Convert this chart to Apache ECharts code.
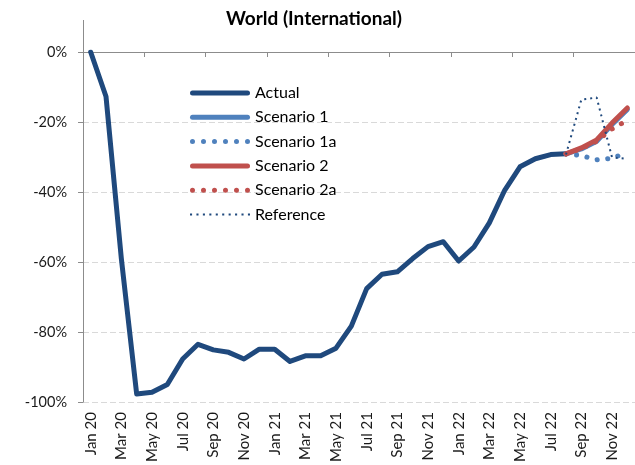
<!DOCTYPE html>
<html>
<head>
<meta charset="utf-8">
<script src="https://cdn.jsdelivr.net/npm/echarts@6/dist/echarts.min.js"></script>
<style>html,body{margin:0;padding:0;background:#fff}#c{width:635px;height:465px}</style>
</head>
<body>
<div id="c"></div>
<script>
var months = ['Jan 20','Feb 20','Mar 20','Apr 20','May 20','Jun 20','Jul 20','Aug 20','Sep 20','Oct 20','Nov 20','Dec 20',
  'Jan 21','Feb 21','Mar 21','Apr 21','May 21','Jun 21','Jul 21','Aug 21','Sep 21','Oct 21','Nov 21','Dec 21',
  'Jan 22','Feb 22','Mar 22','Apr 22','May 22','Jun 22','Jul 22','Aug 22','Sep 22','Oct 22','Nov 22','Dec 22'];
var actual = [0, -12.7, -59.0, -97.7, -97.2, -95.0, -87.7, -83.5, -85.1, -85.8, -87.7, -84.9,
  -84.9, -88.4, -86.8, -86.8, -84.6, -78.3, -67.6, -63.5, -62.8, -59.0, -55.6, -54.2,
  -59.7, -55.7, -48.8, -39.5, -32.8, -30.5, -29.3, -29.1];
var scenarioMonths = ['Aug 22','Sep 22','Oct 22','Nov 22','Dec 22'];
var scenario1 = [-29.1, -27.7, -25.5, -20.7, -16.4];
var scenario1a = [-29.1, -29.6, -30.8, -30.4, -28.6];
var scenario2 = [-29.1, -27.4, -25.1, -20.3, -16.0];
var scenario2a = [-29.1, -27.6, -25.5, -22.0, -19.5];
var reference = [-29.3, -13.6, -13.0, -30.1, -30.5];

function pairs(cats, vals) { return vals.map(function (v, i) { return [cats[i], v]; }); }

// legend icon shapes
var ICON_SOLID = 'path://M2.5,0 L57.5,0 A2.5,2.5 0 0 1 57.5,5 L2.5,5 A2.5,2.5 0 0 1 2.5,0 Z';
var dots = '';
for (var k = 0; k < 6; k++) {
  var cx = 2.5 + k * 11;
  dots += 'M' + (cx - 2.5) + ',2.5 A2.5,2.5 0 1 0 ' + (cx + 2.5) + ',2.5 A2.5,2.5 0 1 0 ' + (cx - 2.5) + ',2.5 Z ';
}
var ICON_DOTS = 'path://' + dots;
var sq = '';
for (var j = 0; j < 10; j++) {
  var sx = j * 6.2;
  sq += 'M' + sx + ',0 L' + (sx + 2) + ',0 L' + (sx + 2) + ',2 L' + sx + ',2 Z ';
}
var ICON_SMALLDOTS = 'path://' + sq;

var FONT = 'Lato';
var chart = echarts.init(document.getElementById('c'));
chart.setOption({
  animation: false,
  title: {
    text: 'World (International)', left: 309, top: 4, textAlign: 'center',
    textStyle: { fontFamily: FONT, fontWeight: 'bold', fontSize: 19, color: '#000' }
  },
  grid: { left: 83, top: 52, width: 554, height: 351 },
  legend: {
    orient: 'vertical', left: 185, top: 80, itemWidth: 60, itemHeight: 5, itemGap: 8.3,
    textStyle: { fontFamily: FONT, fontSize: 16, color: '#000' },
    data: [
      { name: 'Actual', icon: ICON_SOLID },
      { name: 'Scenario 1', icon: ICON_SOLID },
      { name: 'Scenario 1a', icon: ICON_DOTS },
      { name: 'Scenario 2', icon: ICON_SOLID },
      { name: 'Scenario 2a', icon: ICON_DOTS },
      { name: 'Reference', icon: ICON_SMALLDOTS }
    ]
  },
  graphic: [{
    type: 'line', shape: { x1: 83.5, y1: 20, x2: 83.5, y2: 52 },
    style: { stroke: '#8c8c8c', lineWidth: 1 }, silent: true
  }],
  xAxis: [{
    type: 'category', data: months, position: 'top', boundaryGap: true,
    axisLine: { onZero: false, lineStyle: { color: '#8c8c8c', width: 1 } },
    axisTick: { show: true, inside: true, length: 5, lineStyle: { color: '#8c8c8c' } },
    axisLabel: { show: false }
  }, {
    type: 'category', data: months, position: 'bottom', boundaryGap: true,
    axisLine: { show: false, onZero: false },
    axisTick: { show: false },
    axisLabel: { rotate: 90, interval: 1, margin: 10, fontFamily: FONT, fontSize: 15, color: '#1a1a1a' }
  }],
  yAxis: {
    type: 'value', min: -100, max: 0, interval: 20,
    axisLine: { show: true, lineStyle: { color: '#8c8c8c' } },
    axisTick: { show: true, length: 5, lineStyle: { color: '#8c8c8c' } },
    axisLabel: { margin: 16, fontFamily: FONT, fontSize: 14.5, color: '#1a1a1a',
      formatter: function (v) { return v + '%'; } },
    splitLine: { show: true, lineStyle: { color: '#d9d9d9', type: [6, 3], width: 1 } }
  },
  series: [
    { name: 'Actual', type: 'line', xAxisIndex: 0, data: pairs(months, actual), symbol: 'none',
      lineStyle: { color: '#1f497d', width: 5, cap: 'round', join: 'round' }, itemStyle: { color: '#1f497d' } },
    { name: 'Scenario 1', type: 'line', xAxisIndex: 0, data: pairs(scenarioMonths, scenario1), symbol: 'none',
      lineStyle: { color: '#4f81bd', width: 5, cap: 'round', join: 'round' }, itemStyle: { color: '#4f81bd' } },
    { name: 'Scenario 1a', type: 'line', xAxisIndex: 0, data: pairs(scenarioMonths, scenario1a), symbol: 'none',
      lineStyle: { color: '#4f81bd', width: 5, cap: 'round', join: 'round', type: [0.1, 10.5] }, itemStyle: { color: '#4f81bd' } },
    { name: 'Scenario 2', type: 'line', xAxisIndex: 0, data: pairs(scenarioMonths, scenario2), symbol: 'none',
      lineStyle: { color: '#c0504d', width: 5, cap: 'round', join: 'round' }, itemStyle: { color: '#c0504d' } },
    { name: 'Scenario 2a', type: 'line', xAxisIndex: 0, data: pairs(scenarioMonths, scenario2a), symbol: 'none',
      lineStyle: { color: '#c0504d', width: 5, cap: 'round', join: 'round', type: [0.1, 10.5] }, itemStyle: { color: '#c0504d' } },
    { name: 'Reference', type: 'line', xAxisIndex: 0, data: pairs(scenarioMonths, reference), symbol: 'none',
      lineStyle: { color: '#1f497d', width: 2, type: [2, 4] }, itemStyle: { color: '#1f497d' } }
  ]
});
</script>
</body>
</html>
